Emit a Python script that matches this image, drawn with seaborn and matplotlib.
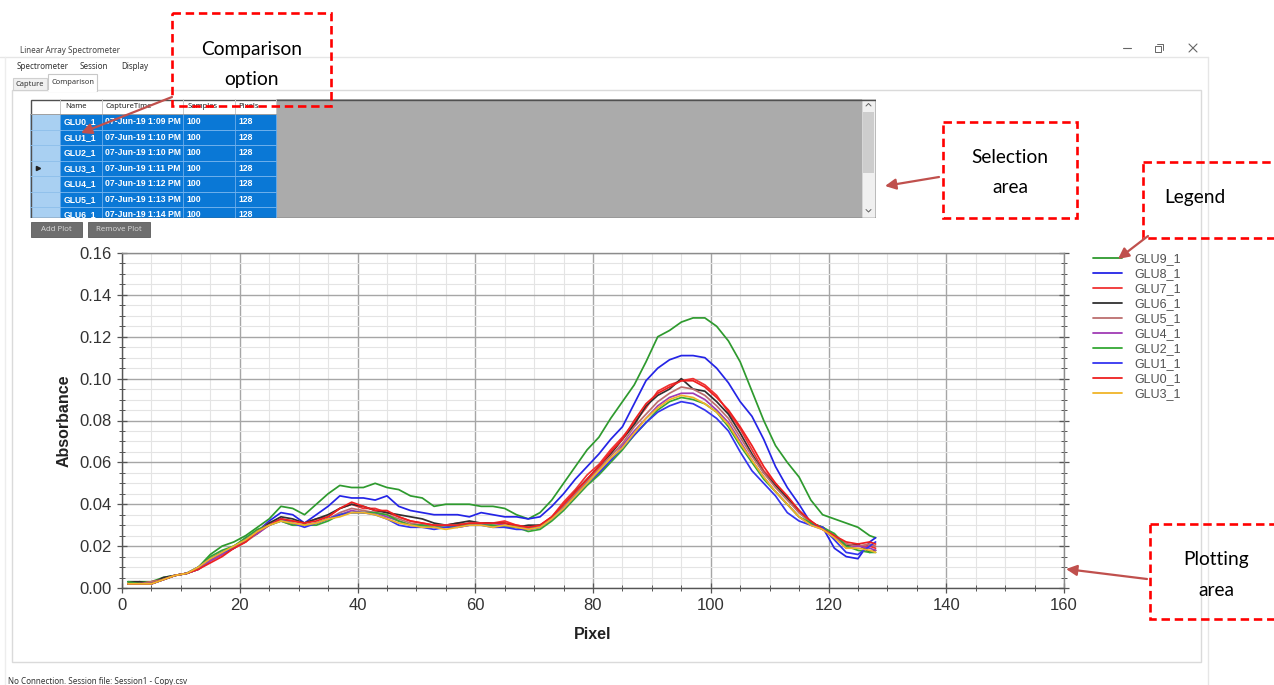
import numpy as np
import pandas as pd
import matplotlib
matplotlib.use("Agg")
import matplotlib.pyplot as plt
import seaborn as sns
from matplotlib.patches import Rectangle
from matplotlib.lines import Line2D
from matplotlib.ticker import MultipleLocator, FormatStrFormatter

W, H = 1274, 685

# ---------------- data ----------------
pixels = [1, 3, 5, 7, 9, 11, 13, 15, 17, 19,
          21, 23, 25, 27, 29, 31, 33, 35, 37, 39,
          41, 43, 45, 47, 49, 51, 53, 55, 57, 59,
          61, 63, 65, 67, 69, 71, 73, 75, 77, 79,
          81, 83, 85, 87, 89, 91, 93, 95, 97, 99,
          101, 103, 105, 107, 109, 111, 113, 115, 117, 119,
          121, 123, 125, 127, 128]

glu9 = [0.002, 0.003, 0.003, 0.005, 0.006, 0.007, 0.010, 0.016, 0.020, 0.022,
        0.025, 0.029, 0.033, 0.039, 0.038, 0.035, 0.040, 0.045, 0.049, 0.048,
        0.048, 0.050, 0.048, 0.047, 0.044, 0.043, 0.039, 0.040, 0.040, 0.040,
        0.039, 0.039, 0.038, 0.035, 0.033, 0.036, 0.042, 0.050, 0.058, 0.066,
        0.072, 0.081, 0.089, 0.097, 0.108, 0.120, 0.123, 0.127, 0.129, 0.129,
        0.125, 0.118, 0.108, 0.094, 0.080, 0.068, 0.060, 0.053, 0.042, 0.035,
        0.033, 0.031, 0.029, 0.025, 0.024]
glu8 = [0.002, 0.002, 0.002, 0.004, 0.006, 0.007, 0.009, 0.014, 0.017, 0.019,
        0.024, 0.027, 0.032, 0.036, 0.035, 0.031, 0.035, 0.039, 0.044, 0.043,
        0.043, 0.042, 0.044, 0.039, 0.037, 0.036, 0.035, 0.035, 0.035, 0.034,
        0.036, 0.035, 0.034, 0.034, 0.033, 0.034, 0.039, 0.045, 0.052, 0.058,
        0.064, 0.071, 0.077, 0.088, 0.099, 0.105, 0.109, 0.111, 0.111, 0.110,
        0.105, 0.098, 0.089, 0.082, 0.071, 0.058, 0.048, 0.040, 0.031, 0.029,
        0.019, 0.015, 0.014, 0.022, 0.024]
glu7 = [0.002, 0.002, 0.003, 0.004, 0.006, 0.007, 0.009, 0.013, 0.016, 0.019,
        0.022, 0.027, 0.031, 0.033, 0.032, 0.031, 0.033, 0.034, 0.038, 0.040,
        0.038, 0.038, 0.036, 0.034, 0.032, 0.031, 0.030, 0.030, 0.031, 0.030,
        0.031, 0.031, 0.032, 0.030, 0.029, 0.030, 0.034, 0.041, 0.047, 0.054,
        0.059, 0.066, 0.072, 0.079, 0.086, 0.094, 0.097, 0.099, 0.100, 0.097,
        0.092, 0.084, 0.076, 0.066, 0.056, 0.050, 0.043, 0.036, 0.032, 0.028,
        0.024, 0.021, 0.020, 0.020, 0.019]
glu6 = [0.003, 0.003, 0.002, 0.005, 0.006, 0.007, 0.009, 0.014, 0.017, 0.020,
        0.023, 0.026, 0.031, 0.034, 0.033, 0.031, 0.033, 0.035, 0.038, 0.040,
        0.039, 0.037, 0.036, 0.035, 0.034, 0.033, 0.031, 0.030, 0.031, 0.032,
        0.031, 0.031, 0.031, 0.029, 0.030, 0.030, 0.033, 0.039, 0.046, 0.052,
        0.058, 0.064, 0.071, 0.078, 0.087, 0.092, 0.095, 0.100, 0.095, 0.094,
        0.089, 0.083, 0.074, 0.064, 0.055, 0.049, 0.043, 0.037, 0.031, 0.029,
        0.025, 0.020, 0.021, 0.017, 0.018]
glu5 = [0.002, 0.002, 0.003, 0.004, 0.006, 0.007, 0.009, 0.013, 0.016, 0.019,
        0.022, 0.026, 0.030, 0.033, 0.031, 0.030, 0.031, 0.033, 0.036, 0.038,
        0.037, 0.036, 0.035, 0.033, 0.031, 0.030, 0.030, 0.030, 0.030, 0.031,
        0.031, 0.030, 0.030, 0.029, 0.029, 0.029, 0.033, 0.039, 0.045, 0.051,
        0.057, 0.063, 0.069, 0.077, 0.083, 0.089, 0.093, 0.096, 0.095, 0.092,
        0.087, 0.081, 0.072, 0.063, 0.055, 0.048, 0.042, 0.036, 0.031, 0.029,
        0.025, 0.021, 0.020, 0.021, 0.020]
glu4 = [0.002, 0.002, 0.002, 0.004, 0.006, 0.007, 0.009, 0.013, 0.016, 0.019,
        0.023, 0.026, 0.030, 0.032, 0.030, 0.030, 0.031, 0.033, 0.035, 0.037,
        0.036, 0.036, 0.034, 0.032, 0.030, 0.030, 0.029, 0.030, 0.029, 0.030,
        0.030, 0.031, 0.030, 0.029, 0.028, 0.029, 0.033, 0.038, 0.044, 0.050,
        0.055, 0.061, 0.068, 0.075, 0.081, 0.087, 0.091, 0.093, 0.093, 0.090,
        0.085, 0.079, 0.070, 0.061, 0.053, 0.046, 0.040, 0.034, 0.030, 0.028,
        0.025, 0.019, 0.020, 0.019, 0.018]
glu2 = [0.003, 0.002, 0.002, 0.004, 0.006, 0.007, 0.010, 0.015, 0.018, 0.020,
        0.024, 0.028, 0.030, 0.032, 0.030, 0.030, 0.030, 0.032, 0.035, 0.036,
        0.036, 0.036, 0.035, 0.032, 0.030, 0.030, 0.029, 0.029, 0.030, 0.030,
        0.030, 0.030, 0.029, 0.029, 0.027, 0.028, 0.032, 0.037, 0.043, 0.049,
        0.054, 0.060, 0.066, 0.073, 0.079, 0.085, 0.089, 0.091, 0.090, 0.088,
        0.084, 0.077, 0.068, 0.060, 0.052, 0.046, 0.040, 0.034, 0.031, 0.029,
        0.026, 0.020, 0.018, 0.017, 0.017]
glu1 = [0.002, 0.002, 0.002, 0.004, 0.006, 0.007, 0.010, 0.014, 0.017, 0.019,
        0.023, 0.027, 0.030, 0.033, 0.031, 0.029, 0.031, 0.033, 0.035, 0.036,
        0.036, 0.035, 0.033, 0.030, 0.029, 0.029, 0.028, 0.029, 0.029, 0.030,
        0.030, 0.029, 0.029, 0.028, 0.028, 0.029, 0.033, 0.038, 0.044, 0.050,
        0.055, 0.061, 0.067, 0.073, 0.079, 0.084, 0.087, 0.089, 0.088, 0.085,
        0.081, 0.075, 0.065, 0.056, 0.050, 0.044, 0.036, 0.032, 0.030, 0.029,
        0.023, 0.017, 0.016, 0.020, 0.022]
glu0 = [0.002, 0.002, 0.002, 0.004, 0.006, 0.007, 0.009, 0.012, 0.015, 0.019,
        0.022, 0.027, 0.030, 0.033, 0.032, 0.031, 0.032, 0.034, 0.038, 0.041,
        0.039, 0.037, 0.037, 0.034, 0.032, 0.031, 0.030, 0.030, 0.030, 0.031,
        0.031, 0.031, 0.031, 0.030, 0.029, 0.030, 0.034, 0.040, 0.046, 0.052,
        0.058, 0.065, 0.071, 0.080, 0.088, 0.093, 0.096, 0.099, 0.099, 0.096,
        0.091, 0.085, 0.077, 0.068, 0.058, 0.050, 0.044, 0.037, 0.032, 0.028,
        0.025, 0.022, 0.021, 0.022, 0.021]
glu3 = [0.002, 0.002, 0.002, 0.004, 0.006, 0.007, 0.010, 0.014, 0.017, 0.020,
        0.023, 0.027, 0.030, 0.032, 0.031, 0.030, 0.031, 0.033, 0.034, 0.036,
        0.036, 0.035, 0.033, 0.031, 0.030, 0.029, 0.029, 0.028, 0.029, 0.030,
        0.030, 0.029, 0.030, 0.029, 0.028, 0.029, 0.033, 0.038, 0.044, 0.050,
        0.056, 0.062, 0.067, 0.074, 0.081, 0.086, 0.090, 0.092, 0.091, 0.088,
        0.084, 0.078, 0.069, 0.061, 0.053, 0.046, 0.040, 0.034, 0.030, 0.028,
        0.024, 0.019, 0.019, 0.018, 0.017]

series_names = ["GLU9_1", "GLU8_1", "GLU7_1", "GLU6_1", "GLU5_1",
                "GLU4_1", "GLU2_1", "GLU1_1", "GLU0_1", "GLU3_1"]
series_values = [glu9, glu8, glu7, glu6, glu5, glu4, glu2, glu1, glu0, glu3]
series_colors = ["#2E9A2E", "#2424E6", "#F03232", "#303030", "#BC6E6E",
                 "#A03CB4", "#34A834", "#3434F0", "#EE2020", "#F0B428"]

x_ticks_major = 20
y_ticks_major = 0.02

# selection table
table_names = ["GLU0_1", "GLU1_1", "GLU2_1", "GLU3_1", "GLU4_1", "GLU5_1", "GLU6_1"]
table_times = ["07-Jun-19 1:09 PM", "07-Jun-19 1:10 PM", "07-Jun-19 1:10 PM",
               "07-Jun-19 1:11 PM", "07-Jun-19 1:12 PM", "07-Jun-19 1:13 PM",
               "07-Jun-19 1:14 PM"]
table_samples = ["100", "100", "100", "100", "100", "100", "100"]
table_pixels = ["128", "128", "128", "128", "128", "128", "128"]
table_headers = ["Name", "CaptureTime", "Samples", "Pixels"]

# ---------------- style ----------------
sns.set_theme(style="white")
plt.rcParams['font.family'] = ['Liberation Sans', 'DejaVu Sans']

fig = plt.figure(figsize=(W / 100, H / 100), dpi=100)
fig.patch.set_facecolor('white')


def px_axes(x0, y0, x1, y1, z=0):
    a = fig.add_axes([x0 / W, 1 - y1 / H, (x1 - x0) / W, (y1 - y0) / H], zorder=z)
    a.set_xlim(x0, x1)
    a.set_ylim(y1, y0)
    a.axis('off')
    return a


UIF = ['Noto Sans', 'DejaVu Sans']

# ---------------- window chrome ----------------
ui = px_axes(0, 0, W, H, z=0)
ui.plot([0, 1208], [57, 57], color='#E6E6E6', lw=1)
ui.plot([1208, 1208], [57, H], color='#E6E6E6', lw=1)
ui.plot([5, 5], [57, H], color='#EDEDED', lw=1)
ui.text(20, 50, "Linear Array Spectrometer", fontsize=5.8, color='#444444',
        family=UIF, va='center', ha='left')
# window buttons
ui.plot([1123, 1131], [48, 48], color='#666666', lw=0.8)
ui.add_patch(Rectangle((1155, 45.5), 6, 6, fill=False, ec='#666666', lw=0.7))
ui.plot([1157, 1163, 1163], [43.5, 43.5, 49.5], color='#666666', lw=0.7)
ui.plot([1189, 1197], [44, 52], color='#666666', lw=0.8)
ui.plot([1189, 1197], [52, 44], color='#666666', lw=0.8)
# menu
for label, xx in [("Spectrometer", 17), ("Session", 80), ("Display", 121)]:
    ui.text(xx, 66, label, fontsize=5.8, color='#333333', family=UIF, va='center', ha='left')
# tabs and panel
ui.add_patch(Rectangle((12, 90), 1189, 572, facecolor='white', edgecolor='#DADADA', lw=1))
ui.add_patch(Rectangle((13, 78), 34, 12, facecolor='#F0F0F0', edgecolor='#D0D0D0', lw=0.8))
ui.text(30, 84.5, "Capture", fontsize=5.4, color='#333333', family=UIF, va='center', ha='center')
ui.add_patch(Rectangle((48, 74), 49, 17, facecolor='white', edgecolor='#C8C8C8', lw=0.8))
ui.plot([48.6, 96.4], [90.5, 90.5], color='white', lw=1.5)
ui.text(72.5, 82.5, "Comparison", fontsize=5.4, color='#333333', family=UIF, va='center', ha='center')

# buttons
ui.add_patch(Rectangle((31, 222), 51, 15, facecolor='#6E6E6E', edgecolor='#5A5A5A', lw=0.6))
ui.text(56.5, 229.5, "Add Plot", fontsize=5.6, color='#D6D6D6', family=UIF, va='center', ha='center')
ui.add_patch(Rectangle((88, 222), 62, 15, facecolor='#6E6E6E', edgecolor='#5A5A5A', lw=0.6))
ui.text(119, 229.5, "Remove Plot", fontsize=5.6, color='#D6D6D6', family=UIF, va='center', ha='center')

# status bar
ui.text(8, 682, "No Connection. Session file: Session1 - Copy.csv", fontsize=5.8,
        color='#333333', family=UIF, va='center', ha='left')

# ---------------- selection table ----------------
tb = px_axes(30, 99, 876, 218, z=1)
tb.add_patch(Rectangle((30, 99), 846, 119, facecolor='#ABABAB', edgecolor='none'))
tb.add_patch(Rectangle((30, 99), 246, 15, facecolor='white', edgecolor='none'))
tb.add_patch(Rectangle((30, 114), 30, 104, facecolor='#A9D0F2', edgecolor='none'))
tb.add_patch(Rectangle((60, 114), 216, 104, facecolor='#0A78D6', edgecolor='none'))
col_x = [60, 102, 183, 235, 276]
for cx in col_x:
    tb.plot([cx, cx], [99, 114], color='#C8C8C8', lw=0.7)
    tb.plot([cx, cx], [114, 218], color='#5FA6E8', lw=0.7)
tb.plot([30, 276], [114, 114], color='#A0A0A0', lw=0.7)
row_h = 15.5
for i in range(1, 8):
    yy = 114 + i * row_h
    tb.plot([60, 276], [yy, yy], color='#6FB0EC', lw=0.7)
    tb.plot([30, 60], [yy, yy], color='#8DBFEA', lw=0.6)
for hx, lab in zip([65, 106, 188, 238], table_headers):
    tb.text(hx, 106.5, lab, fontsize=5.5, color='#222222', family=UIF, va='center',
            ha='left', clip_on=True)
for i in range(len(table_names)):
    yy = 121.8 + i * row_h
    for cx, val in zip([64, 105, 186, 238],
                       [table_names[i], table_times[i], table_samples[i], table_pixels[i]]):
        tb.text(cx, yy, val, fontsize=6.2, color='white', fontweight='bold',
                family=['Liberation Sans', 'DejaVu Sans'], va='center', ha='left', clip_on=True)
tb.plot([37.5], [168.3], marker='>', ms=3, color='#222222')
# scrollbar
tb.add_patch(Rectangle((862, 99), 13, 119, facecolor='#F0F0F0', edgecolor='#D8D8D8', lw=0.6))
tb.add_patch(Rectangle((863, 112), 11, 61, facecolor='#CDCDCD', edgecolor='none'))
tb.plot([866, 868.5, 871], [106, 103.5, 106], color='#606060', lw=0.7)
tb.plot([866, 868.5, 871], [209.5, 212, 209.5], color='#606060', lw=0.7)
tb.add_patch(Rectangle((30.5, 99.5), 845, 118, fill=False, edgecolor='#505050', lw=1.0))

# ---------------- chart ----------------
ax = fig.add_axes([122 / W, 1 - 588 / H, 942 / W, 335 / H], zorder=2)
ax.set_facecolor('white')
records = []
for name, vals in zip(series_names, series_values):
    for p, v in zip(pixels, vals):
        records.append((name, p, v))
df = pd.DataFrame(records, columns=['Series', 'Pixel', 'Absorbance'])
palette = dict(zip(series_names, series_colors))
sns.lineplot(data=df, x='Pixel', y='Absorbance', hue='Series', hue_order=series_names,
             palette=palette, estimator=None, sort=False, legend=False, ax=ax, linewidth=1.25)

ax.set_xlim(0, 160)
ax.set_ylim(0, 0.16)
ax.xaxis.set_major_locator(MultipleLocator(x_ticks_major))
ax.xaxis.set_minor_locator(MultipleLocator(5))
ax.yaxis.set_major_locator(MultipleLocator(y_ticks_major))
ax.yaxis.set_minor_locator(MultipleLocator(0.005))
ax.yaxis.set_major_formatter(FormatStrFormatter('%.2f'))
ax.grid(which='major', color='#A6A6A6', lw=1.0)
ax.grid(which='minor', color='#E4E4E4', lw=0.8)
ax.set_axisbelow(True)
ax.tick_params(which='both', direction='inout', color='#555555', labelcolor='#333333',
               labelsize=12, bottom=True, left=True, right=True)
ax.tick_params(which='major', length=6.5, width=0.9)
ax.tick_params(which='minor', length=4, width=0.7)
ax.tick_params(axis='x', pad=4)
ax.tick_params(axis='y', pad=4, labelright=False)
for s in ['left', 'bottom']:
    ax.spines[s].set_color('#555555')
    ax.spines[s].set_linewidth(1.0)
for s in ['top', 'right']:
    ax.spines[s].set_color('#8C8C8C')
    ax.spines[s].set_linewidth(1.0)
ax.set_xlabel("Pixel", fontsize=11.5, fontweight='bold', color='#222222', labelpad=10)
ax.set_ylabel("Absorbance", fontsize=11.5, fontweight='bold', color='#222222', labelpad=6)

handles = [Line2D([], [], color=c, lw=1.3) for c in series_colors]
leg = ax.legend(handles, series_names, loc='upper left',
                bbox_to_anchor=(1093 / W, 1 - 253 / H), bbox_transform=fig.transFigure,
                frameon=False, fontsize=9, handlelength=2.3, handletextpad=1.0,
                labelspacing=0.24, borderpad=0, borderaxespad=0)
for t in leg.get_texts():
    t.set_color('#505050')

# ---------------- annotations ----------------
an = px_axes(0, 0, W, H, z=5)
AF = ['Lato', 'DejaVu Sans']
red = '#FF0000'
arrow_c = '#C0504D'
dash = (0, (3.2, 1.8))
boxes = [(172, 13, 159, 93), (943, 122, 134, 96), (1143, 162, 160, 76), (1150, 524, 150, 95)]
for (bx, by, bw, bh) in boxes:
    an.add_patch(Rectangle((bx, by), bw, bh, fill=False, edgecolor=red, lw=1.9, linestyle=dash))
an.text(251.5, 49, "Comparison", fontsize=13.8, family=AF, ha='center', va='center', color='black')
an.text(251.5, 79, "option", fontsize=13.8, family=AF, ha='center', va='center', color='black')
an.text(1010, 157.5, "Selection", fontsize=13.8, family=AF, ha='center', va='center', color='black')
an.text(1010, 187.5, "area", fontsize=13.8, family=AF, ha='center', va='center', color='black')
an.text(1195, 197, "Legend", fontsize=13.8, family=AF, ha='center', va='center', color='black')
an.text(1216, 560, "Plotting", fontsize=13.8, family=AF, ha='center', va='center', color='black')
an.text(1216, 590, "area", fontsize=13.8, family=AF, ha='center', va='center', color='black')
for tail, tip in [((172, 97), (81, 133)), ((939, 177), (885, 186)),
                  ((1148, 236), (1118, 259)), ((1147, 579), (1066, 569))]:
    an.annotate('', xy=tip, xytext=tail,
                arrowprops=dict(arrowstyle='-|>', color=arrow_c, lw=1.6, mutation_scale=16,
                                shrinkA=0, shrinkB=0))

fig.savefig("out.png", dpi=100, facecolor='white')
